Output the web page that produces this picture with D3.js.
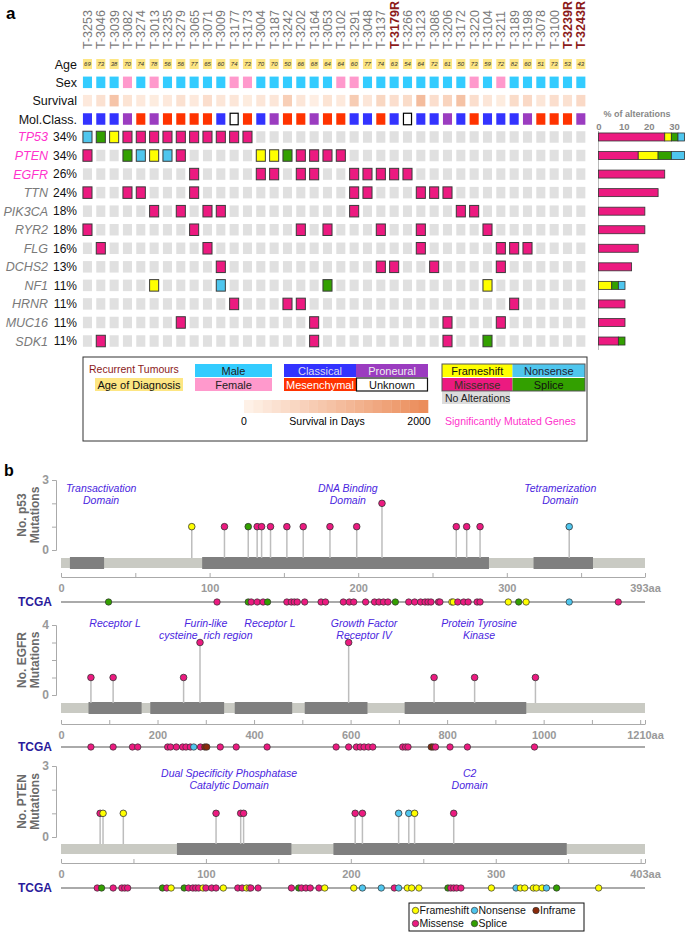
<!DOCTYPE html>
<html>
<head>
<meta charset="utf-8">
<script src="https://cdn.jsdelivr.net/npm/d3@7"></script>
<style>
  body { margin: 0; background: #fff; }
  svg { display: block; font-family: "Liberation Sans", Arial, sans-serif; }
</style>
</head>
<body>
<svg id="chart" width="685" height="932"></svg>
<script>
// ---------- panel a data ----------
const samples = ["T-3253","T-3046","T-3039","T-3082","T-3274","T-3013","T-3235","T-3279","T-3065","T-3071",
  "T-3009","T-3177","T-3173","T-3004","T-3187","T-3242","T-3202","T-3164","T-3053","T-3102",
  "T-3291","T-3048","T-3137","T-3179R","T-3266","T-3123","T-3086","T-3206","T-3172","T-3220",
  "T-3104","T-3211","T-3189","T-3198","T-3078","T-3100","T-3239R","T-3243R"];
const recurrent = ["T-3179R","T-3239R","T-3243R"];
const ages = [69,73,38,70,74,78,56,56,77,65,60,74,73,70,70,50,66,68,64,64,
  60,77,74,63,54,64,72,61,50,73,59,72,82,60,51,73,53,43];
const sexes = ["M","M","M","F","M","F","M","M","M","M","M","F","F","M","M","M","M","M","M","F",
  "F","M","M","M","M","M","M","M","M","F","M","F","M","M","M","M","M","M"];
const survivalDays = [250,400,950,350,250,200,250,400,250,450,300,300,200,300,300,750,300,150,350,250,
  800,300,600,450,500,1100,450,650,1000,450,300,200,500,550,300,450,400,550];
const molClass = ["C","C","C","P","M","P","M","M","M","M","C","U","M","C","P","M","M","P","M","M",
  "C","C","M","C","U","C","C","P","C","M","C","C","C","P","M","M","M","P"];

const genes = ["TP53","PTEN","EGFR","TTN","PIK3CA","RYR2","FLG","DCHS2","NF1","HRNR","MUC16","SDK1"];
const sigGenes = ["TP53","PTEN","EGFR"];
// sample indices per gene, one list per mutation type
const missense = [[3,4,5,6,7,8,9,10,11,12],[0,7,16,17,18,19],[8,13,14,16,17,20,21,22,23,24],[0,3,4,8,20,21,25,26,27],
  [5,7,9,10,20,28,29],[0,8,16,18,22,25,30],[1,9,25,31,32,33],[10,22,23,26,31],[],[11,15,16,32],[7,17,27,31],[1,17,27]];
const frameshift = [[2],[5,13,14],[],[],[],[],[],[],[5,30],[],[],[]];
const nonsense = [[0],[4,6],[],[],[],[],[],[],[10],[],[],[]];
const splice = [[1],[3,15],[],[],[],[],[],[],[18],[],[],[30]];

// ---------- panel b data ----------
const p53Domains = [[6,29],[95,288],[318,358]];
const p53Labels = [[27,"Transactivation","Domain"],[193,"DNA Binding","Domain"],[336,"Tetramerization","Domain"]];
const p53Muts = [[88,"F",1],[110,"M",1],[126,"S",1],[132,"M",1],[135,"M",1],[141,"M",1],[152,"M",1],[163,"M",1],
  [181,"M",1],[199,"M",1],[216,"M",2],[266,"M",1],[273,"M",1],[282,"M",1],[342,"N",1]];
const p53Tcga = [[32,"S"],[105,"M"],[126,"S"],[128,"M"],[132,"M"],[136,"M"],[139,"S"],[152,"M"],[155,"M"],[157,"M"],
  [159,"M"],[164,"M"],[175,"M"],[178,"M"],[190,"M"],[194,"M"],[197,"M"],[205,"M"],[211,"M"],[214,"M"],[217,"M"],
  [220,"M"],[225,"S"],[234,"M"],[238,"M"],[242,"M"],[245,"M"],[247,"M"],[249,"M"],[254,"M"],[255,"M"],[263,"F"],
  [264,"F"],[267,"M"],[271,"M"],[274,"M"],[280,"M"],[282,"M"],[301,"F"],[308,"S"],[313,"F"],[342,"N"],[375,"M"]];

const egfrDomains = [[57,167],[185,338],[360,479],[505,635],[712,964]];
const egfrLabels = [[112,"Receptor L"],[300,"Furin-like","cysteine  rich region"],[433,"Receptor L"],
  [628,"Growth Factor","Receptor IV"],[866,"Protein Tyrosine","Kinase"]];
const egfrMuts = [[62,"M",1],[108,"M",1],[254,"M",1],[288,"M",3],[596,"M",3],[773,"M",1],[857,"M",1],[983,"M",1]];
const egfrTcga = [[62,"M"],[108,"M"],[148,"M"],[159,"M"],[221,"M"],[227,"M"],[239,"M"],[252,"M"],[259,"M"],[268,"M"],
  [275,"N"],[289,"M"],[298,"I"],[302,"I"],[330,"M"],[363,"M"],[427,"M"],[570,"M"],[596,"M"],[612,"M"],[620,"M"],
  [628,"M"],[637,"M"],[646,"M"],[708,"M"],[714,"M"],[719,"M"],[767,"I"],[771,"I"],[776,"M"],[806,"M"],[842,"M"],[981,"M"]];

const ptenDomains = [[80,159],[188,349]];
const ptenLabels = [[116,"Dual Specificity Phosphatase","Catalytic Domain"],[282,"C2","Domain"]];
const ptenMuts = [[27,"M",1],[29,"F",1],[43,"F",1],[107,"M",1],[124,"M",1],[126,"M",1],[203,"M",1],[208,"M",1],
  [233,"N",1],[240,"N",1],[244,"F",1],[271,"M",1]];
const ptenTcga = [[25,"M"],[28,"S"],[36,"M"],[42,"M"],[44,"M"],[46,"M"],[70,"S"],[73,"M"],[76,"F"],[85,"S"],[88,"M"],
  [91,"M"],[93,"M"],[95,"M"],[98,"F"],[100,"M"],[104,"M"],[107,"M"],[112,"F"],[122,"M"],[125,"M"],[128,"F"],[130,"F"],
  [131,"M"],[136,"M"],[159,"M"],[164,"S"],[166,"M"],[169,"M"],[172,"M"],[178,"M"],[182,"F"],[202,"F"],[208,"N"],
  [221,"N"],[230,"M"],[233,"N"],[239,"F"],[242,"F"],[247,"F"],[267,"S"],[269,"M"],[271,"M"],[273,"M"],[276,"M"],
  [297,"F"],[314,"N"],[317,"F"],[320,"F"],[326,"F"],[328,"F"],[332,"F"],[335,"N"],[342,"S"],[371,"F"]];

// ---------- colours ----------
const mutColor = { M: "#ec1a80", F: "#ffff00", N: "#4fc6ee", S: "#33a000", I: "#8a2a0a" };
const sexColor = { M: "#33ccff", F: "#ff99cc" };
const molColor = { C: "#3333ff", P: "#9b3cc0", M: "#ff3300", U: "#ffffff" };
const survColor = d3.scaleLinear().domain([0, 2000]).range(["#fff6ee", "#eb8d5b"]);
const magenta = "#ff33cc";
const greyText = "#7a7a7a";

const svg = d3.select("#chart");

// ================= panel a =================
svg.append("text").attr("x", 6).attr("y", 19).style("font-size", "17px").style("font-weight", "bold").text("a");

const x = d3.scaleBand().domain(samples).range([80.8, 587.5]).paddingInner(0.32).paddingOuter(0.16);
const cx = s => x(s) + x.bandwidth() / 2;

// sample names
svg.append("g").selectAll("text").data(samples).join("text")
  .attr("transform", d => `translate(${cx(d)},49) rotate(-90)`)
  .attr("dy", "0.36em")
  .style("font-size", "12.5px")
  .style("font-weight", d => recurrent.includes(d) ? "bold" : "normal")
  .style("fill", d => recurrent.includes(d) ? "#8b1a1a" : greyText)
  .text(d => d);

// clinical rows
const headRows = ["Age", "Sex", "Survival", "Mol.Class."];
const yHead = d3.scalePoint().domain(headRows).range([64, 119]);
svg.append("g").selectAll("text").data(headRows).join("text")
  .attr("x", 77).attr("y", d => yHead(d)).attr("dy", "0.36em")
  .attr("text-anchor", "end").style("font-size", "12.5px").style("fill", "#111")
  .text(d => d);

const ageG = svg.append("g");
ageG.selectAll("rect").data(samples).join("rect")
  .attr("x", d => x(d)).attr("y", yHead("Age") - 5).attr("width", x.bandwidth()).attr("height", 10)
  .style("fill", "#fde683");
ageG.selectAll("text").data(samples).join("text")
  .attr("x", d => cx(d)).attr("y", yHead("Age")).attr("dy", "0.35em")
  .attr("text-anchor", "middle").style("font-size", "6px").style("font-style", "italic").style("fill", "#333")
  .text((d, i) => ages[i]);

svg.append("g").selectAll("rect").data(samples).join("rect")
  .attr("x", d => x(d)).attr("y", yHead("Sex") - 5.75).attr("width", x.bandwidth()).attr("height", 11.5)
  .style("fill", (d, i) => sexColor[sexes[i]]);

svg.append("g").selectAll("rect").data(samples).join("rect")
  .attr("x", d => x(d)).attr("y", yHead("Survival") - 5.75).attr("width", x.bandwidth()).attr("height", 11.5)
  .style("fill", (d, i) => survColor(survivalDays[i]));

svg.append("g").selectAll("rect").data(samples).join("rect")
  .attr("x", (d, i) => x(d) + (molClass[i] === "U" ? 0.5 : 0))
  .attr("y", yHead("Mol.Class.") - 5.75)
  .attr("width", (d, i) => x.bandwidth() - (molClass[i] === "U" ? 1 : 0))
  .attr("height", 11.5)
  .style("fill", (d, i) => molColor[molClass[i]])
  .style("stroke", (d, i) => molClass[i] === "U" ? "#000" : "none")
  .style("stroke-width", 1.2);

// gene rows
const yGene = d3.scaleBand().domain(genes).range([127.7, 350.3]).paddingInner(0.38).paddingOuter(0.19);
const gy = g => yGene(g) + yGene.bandwidth() / 2;

const geneCells = genes.map((g, gi) => {
  const types = {};
  missense[gi].forEach(i => types[i] = "M");
  frameshift[gi].forEach(i => types[i] = "F");
  nonsense[gi].forEach(i => types[i] = "N");
  splice[gi].forEach(i => types[i] = "S");
  return { gene: g, types, count: Object.keys(types).length };
});

const rowG = svg.append("g").selectAll("g").data(geneCells).join("g");
rowG.append("text")
  .attr("x", 48).attr("y", d => gy(d.gene)).attr("dy", "0.36em").attr("text-anchor", "end")
  .style("font-size", "12.5px").style("font-style", "italic")
  .style("fill", d => sigGenes.includes(d.gene) ? magenta : greyText)
  .text(d => d.gene);
rowG.append("text")
  .attr("x", 77).attr("y", d => gy(d.gene)).attr("dy", "0.36em").attr("text-anchor", "end")
  .style("font-size", "12px").style("fill", "#111")
  .text(d => Math.round(d.count / samples.length * 100) + "%");
rowG.each(function(d) {
  d3.select(this).selectAll("rect").data(samples).join("rect")
    .attr("x", s => x(s)).attr("y", yGene(d.gene)).attr("width", x.bandwidth()).attr("height", yGene.bandwidth())
    .style("fill", (s, i) => d.types[i] ? mutColor[d.types[i]] : "#e0e0e0")
    .style("stroke", (s, i) => d.types[i] ? "#3a3a3a" : "none")
    .style("stroke-width", 1);
});

// % of alterations bars
const xPct = d3.scaleLinear().domain([0, 30]).range([598.5, 674]);
svg.append("text").attr("x", 637).attr("y", 117).attr("text-anchor", "middle")
  .style("font-size", "9px").style("font-weight", "bold").style("fill", "#888").text("% of alterations");
const pctAxis = svg.append("g").attr("transform", "translate(0,131)")
  .call(d3.axisTop(xPct).tickValues([0, 10, 20, 30]).tickSize(0).tickPadding(1.5));
pctAxis.select(".domain").remove();
pctAxis.selectAll("text").style("font-size", "9.5px").style("font-weight", "bold").style("fill", "#888")
  .style("font-family", "'Liberation Sans', Arial, sans-serif");
svg.append("line").attr("x1", 598.5).attr("x2", 598.5).attr("y1", 131).attr("y2", 350).style("stroke", "#bbb");

const barOrder = ["M", "F", "S", "N"];
const barSegs = [];
geneCells.forEach(d => {
  let acc = 0;
  barOrder.forEach(t => {
    const n = Object.values(d.types).filter(v => v === t).length;
    if (n) {
      const p0 = acc / samples.length * 100;
      acc += n;
      barSegs.push({ gene: d.gene, type: t, p0, p1: acc / samples.length * 100 });
    }
  });
});
svg.append("g").selectAll("rect").data(barSegs).join("rect")
  .attr("x", d => xPct(d.p0)).attr("width", d => xPct(d.p1) - xPct(d.p0))
  .attr("y", d => gy(d.gene) - 4).attr("height", 8)
  .style("fill", d => mutColor[d.type]).style("stroke", "#333").style("stroke-width", 0.8);

// legend box (panel a)
const lg = svg.append("g");
lg.append("rect").attr("x", 83).attr("y", 357).attr("width", 504).attr("height", 84)
  .style("fill", "#fff").style("stroke", "#333").style("stroke-width", 1);
lg.append("text").attr("x", 89).attr("y", 373).style("font-size", "10.5px").style("fill", "#8b1a1a").text("Recurrent Tumours");
function legendBox(x0, y0, w, fill, label, textColor, stroke) {
  lg.append("rect").attr("x", x0).attr("y", y0).attr("width", w).attr("height", 13)
    .style("fill", fill).style("stroke", stroke || "none").style("stroke-width", 1.2);
  lg.append("text").attr("x", x0 + w / 2).attr("y", y0 + 6.8).attr("dy", "0.36em").attr("text-anchor", "middle")
    .style("font-size", "11px").style("fill", textColor).text(label);
}
legendBox(95, 378, 88, "#fde683", "Age of Diagnosis", "#111");
legendBox(195, 364, 77, sexColor.M, "Male", "#222");
legendBox(195, 378, 77, sexColor.F, "Female", "#222");
legendBox(284, 364, 72, molColor.C, "Classical", "#dde");
legendBox(356, 364, 72, molColor.P, "Proneural", "#eee");
legendBox(284, 378, 72, molColor.M, "Mesenchymal", "#fff");
legendBox(356.5, 378, 71, "#fff", "Unknown", "#111", "#111");
legendBox(442, 364, 70.5, mutColor.F, "Frameshift", "#111");
legendBox(512.5, 364, 72.5, mutColor.N, "Nonsense", "#223");
legendBox(442, 378, 70.5, mutColor.M, "Missense", "#332");
legendBox(512.5, 378, 72.5, mutColor.S, "Splice", "#111");
lg.append("rect").attr("x", 442).attr("y", 364).attr("width", 143).attr("height", 27)
  .style("fill", "none").style("stroke", "#555").style("stroke-width", 1);
lg.append("rect").attr("x", 442).attr("y", 392).attr("width", 68).attr("height", 12).style("fill", "#dcdcdc");
lg.append("text").attr("x", 445).attr("y", 401.5).style("font-size", "10.5px").style("fill", "#222").text("No Alterations");

const gradSteps = d3.range(0, 2000, 100);
const xGrad = d3.scaleLinear().domain([0, 2000]).range([244, 428]);
lg.selectAll("rect.grad").data(gradSteps).join("rect").attr("class", "grad")
  .attr("x", d => xGrad(d)).attr("y", 400).attr("width", xGrad(100) - xGrad(0) + 0.3).attr("height", 13)
  .style("fill", d => survColor(d + 100));
lg.append("text").attr("x", 244).attr("y", 425).attr("text-anchor", "middle").style("font-size", "10.5px").text("0");
lg.append("text").attr("x", 327).attr("y", 425).attr("text-anchor", "middle").style("font-size", "10.5px").text("Survival in Days");
lg.append("text").attr("x", 419).attr("y", 425).attr("text-anchor", "middle").style("font-size", "10.5px").text("2000");
lg.append("text").attr("x", 445).attr("y", 425).style("font-size", "10.5px").style("fill", magenta).text("Significantly Mutated Genes");

// ================= panel b =================
svg.append("text").attr("x", 4).attr("y", 476).style("font-size", "16px").style("font-weight", "bold").text("b");

const labelBlue = "#4a26e0";
const x0 = 61, x1 = 645;

function drawProtein(o) {
  const g = svg.append("g");
  const xs = d3.scaleLinear().domain([0, o.length]).range([x0, x1]);
  const ys = d3.scaleLinear().domain([0, o.yMax]).range([o.yZero, o.yTop]);

  // y axis
  const ya = g.append("g").attr("transform", "translate(56,0)")
    .call(d3.axisLeft(ys).tickValues(d3.range(0, o.yMax + 1)).tickSize(4).tickPadding(3)
      .tickFormat(v => (v === 0 || v === o.yMax) ? v : ""));
  ya.select(".domain").style("stroke", "#aaa");
  ya.selectAll(".tick line").style("stroke", "#aaa");
  ya.selectAll("text").style("font-size", "12px").style("font-weight", "bold").style("fill", "#999")
    .style("font-family", "'Liberation Sans', Arial, sans-serif");
  const ym = (o.yTop + o.yZero) / 2;
  [[o.title, 22], ["Mutations", 35]].forEach(([t, xx]) => {
    g.append("text").attr("transform", `translate(${xx},${ym}) rotate(-90)`).attr("dy", "0.36em")
      .attr("text-anchor", "middle").style("font-size", "12px").style("font-weight", "bold").style("fill", "#6a6a6a")
      .text(t);
  });

  // domain labels
  o.labels.forEach(l => {
    l.slice(1).forEach((t, k) => {
      g.append("text").attr("x", xs(l[0])).attr("y", o.labelY + k * 12).attr("text-anchor", "middle")
        .style("white-space", "pre")
        .style("font-size", "10.5px").style("font-style", "italic").style("fill", labelBlue).text(t);
    });
  });

  // protein backbone and domains
  g.append("rect").attr("x", x0).attr("y", o.protY).attr("width", x1 - x0).attr("height", 10).style("fill", "#c9cac3");
  g.selectAll("rect.dom").data(o.domains).join("rect").attr("class", "dom")
    .attr("x", d => xs(d[0])).attr("width", d => xs(d[1]) - xs(d[0]))
    .attr("y", o.protY - 1).attr("height", 12).style("fill", "#7f7f7f");

  // lollipops
  g.selectAll("line.stem").data(o.muts).join("line").attr("class", "stem")
    .attr("x1", d => xs(d[0])).attr("x2", d => xs(d[0]))
    .attr("y1", o.protY).attr("y2", d => ys(d[2]))
    .style("stroke", "#bdbdbd").style("stroke-width", 1.5);
  g.selectAll("circle.mut").data(o.muts).join("circle").attr("class", "mut")
    .attr("cx", d => xs(d[0])).attr("cy", d => ys(d[2])).attr("r", 3.3)
    .style("fill", d => mutColor[d[1]]).style("stroke", "#333").style("stroke-width", 0.8);

  // position axis
  const xa = g.append("g").attr("transform", `translate(0,${o.axisY})`)
    .call(d3.axisBottom(xs).tickValues(d3.range(0, o.length, o.tickStep).concat([o.length]))
      .tickSize(-4).tickSizeOuter(0).tickPadding(7)
      .tickFormat(v => v === o.length ? v + "aa"
        : (v % o.labelStep === 0 && o.length - v > o.labelStep / 2 ? v : "")));
  xa.select(".domain").style("stroke", "#aaa");
  xa.selectAll(".tick line").style("stroke", "#aaa");
  xa.selectAll("text").style("font-size", "11px").style("font-weight", "bold").style("fill", "#999")
    .style("font-family", "'Liberation Sans', Arial, sans-serif");

  // TCGA track
  g.append("text").attr("x", 52).attr("y", o.tcgaY).attr("dy", "0.36em").attr("text-anchor", "end")
    .style("font-size", "12px").style("font-weight", "bold").style("fill", "#2b1b9b").text("TCGA");
  g.append("line").attr("x1", x0).attr("x2", x1).attr("y1", o.tcgaY).attr("y2", o.tcgaY)
    .style("stroke", "#aaa").style("stroke-width", 2);
  g.selectAll("circle.tcga").data(o.tcga).join("circle").attr("class", "tcga")
    .attr("cx", d => xs(d[0])).attr("cy", o.tcgaY).attr("r", 3.2)
    .style("fill", d => mutColor[d[1]]).style("stroke", "#333").style("stroke-width", 0.7);
}

drawProtein({ title: "No. p53", length: 393, yMax: 3, yTop: 480, yZero: 550, labelY: 492,
  protY: 558, axisY: 577, tcgaY: 602, tickStep: 50, labelStep: 100,
  domains: p53Domains, labels: p53Labels, muts: p53Muts, tcga: p53Tcga });
drawProtein({ title: "No. EGFR", length: 1210, yMax: 4, yTop: 625, yZero: 695, labelY: 627,
  protY: 703, axisY: 724, tcgaY: 747, tickStep: 100, labelStep: 200,
  domains: egfrDomains, labels: egfrLabels, muts: egfrMuts, tcga: egfrTcga });
drawProtein({ title: "No. PTEN", length: 403, yMax: 3, yTop: 766, yZero: 837, labelY: 777,
  protY: 844, axisY: 863, tcgaY: 888, tickStep: 50, labelStep: 100,
  domains: ptenDomains, labels: ptenLabels, muts: ptenMuts, tcga: ptenTcga });

// bottom legend
const bl = svg.append("g");
bl.append("rect").attr("x", 409).attr("y", 903).attr("width", 175).attr("height", 28)
  .style("fill", "#fff").style("stroke", "#111").style("stroke-width", 1);
[["F", "Frameshift", 415.5, 910.5], ["N", "Nonsense", 474.5, 910.5], ["I", "Inframe", 536, 910.5],
 ["M", "Missense", 415.5, 923.5], ["S", "Splice", 474.5, 923.5]].forEach(([t, label, lx, ly]) => {
  bl.append("circle").attr("cx", lx).attr("cy", ly).attr("r", 3.2)
    .style("fill", mutColor[t]).style("stroke", "#333").style("stroke-width", 0.7);
  bl.append("text").attr("x", lx + 4).attr("y", ly).attr("dy", "0.36em")
    .style("font-size", "10.5px").style("fill", "#111").text(label);
});
</script>
</body>
</html>
